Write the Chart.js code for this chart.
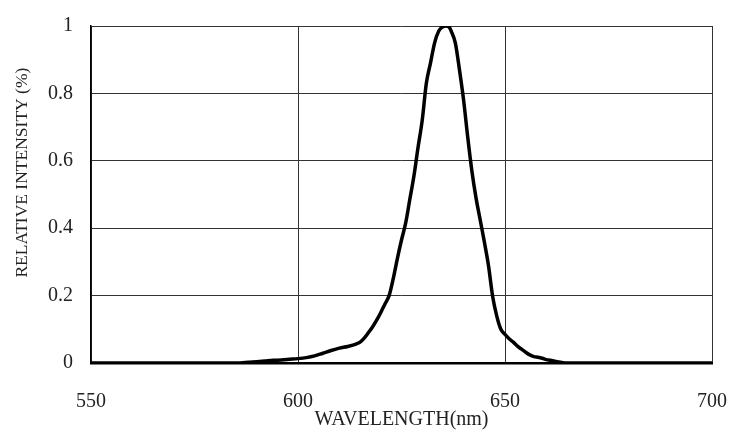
<!DOCTYPE html>
<html>
<head>
<meta charset="utf-8">
<script src="https://cdn.jsdelivr.net/npm/chart.js@4.4.1/dist/chart.umd.min.js"></script>
<style>
  body { margin: 0; background: #fff; }
  #wrap { width: 743px; height: 436px; }
</style>
</head>
<body>
<div id="wrap"><canvas id="myChart"></canvas></div>
<script>
const wavelength = [550, 560, 570, 580, 586, 588, 590, 592, 594, 596, 598, 600, 602, 604, 606, 608, 610, 612, 614, 615, 616, 617, 618, 619, 620, 621, 622, 623, 624, 625, 626, 627, 628, 629, 630, 631, 632, 633, 634, 635, 635.7, 636.5, 637, 638, 639, 640, 641, 642, 643, 644, 645, 646, 647, 648, 649, 650, 651, 652, 653, 654, 655, 656, 657, 658, 659, 660, 661, 662, 663, 664, 665, 680, 700];
const intensity = [0, 0, 0, 0, 0, 0.002, 0.004, 0.006, 0.008, 0.009, 0.011, 0.013, 0.016, 0.021, 0.029, 0.037, 0.044, 0.049, 0.056, 0.062, 0.074, 0.09, 0.107, 0.127, 0.15, 0.175, 0.2, 0.25, 0.31, 0.365, 0.415, 0.485, 0.555, 0.64, 0.72, 0.83, 0.89, 0.95, 0.985, 0.998, 1.0, 0.997, 0.985, 0.95, 0.87, 0.78, 0.67, 0.57, 0.49, 0.425, 0.36, 0.29, 0.199, 0.14, 0.1, 0.085, 0.072, 0.062, 0.05, 0.041, 0.032, 0.024, 0.019, 0.017, 0.014, 0.01, 0.008, 0.005, 0.003, 0.001, 0, 0, 0];
const xTicks = [550, 600, 650, 700];
const yTicks = ["0", "0.2", "0.4", "0.6", "0.8", "1"];
const xTitle = "WAVELENGTH(nm)";
const yTitle = "RELATIVE INTENSITY (%)";

let points = wavelength.map((w, i) => ({ x: w, y: intensity[i] }));
let serif = "'Liberation Serif', 'DejaVu Serif', serif";

new Chart("myChart", {
  type: "line",
  data: {
    datasets: [
      {
        data: points,
        borderColor: "#000",
        borderWidth: 3.5,
        pointRadius: 0,
        cubicInterpolationMode: "monotone",
        fill: false,
      },
    ],
  },
  options: {
    responsive: true,
    maintainAspectRatio: false,
    animation: false,
    layout: { padding: { left: 0, top: 26, right: 31, bottom: 0 } },
    plugins: { legend: { display: false }, tooltip: { enabled: false } },
    scales: {
      x: {
        type: "linear",
        min: xTicks[0],
        max: xTicks[xTicks.length - 1],
        afterFit: (scale) => {
          scale.height = 73;
          // tick padding would otherwise be added to the side overhang
          scale.paddingLeft = 0;
          scale.paddingRight = 0;
        },
        ticks: { stepSize: 50, padding: 27, color: "#222", font: { family: serif, size: 20 } },
        grid: { color: "#333", lineWidth: 1, drawTicks: false },
        border: { color: "#000", width: 2.5 },
        title: { display: true, text: xTitle, color: "#222", font: { family: serif, size: 20 }, padding: { top: 0, bottom: 4 } },
      },
      y: {
        min: 0,
        max: 1,
        afterFit: (scale) => {
          scale.width = 91;
          scale.paddingTop = 0;
          scale.paddingBottom = 0;
        },
        ticks: {
          stepSize: 0.2,
          padding: 18,
          color: "#222",
          font: { family: serif, size: 20 },
          callback: (v, i) => yTicks[i],
        },
        grid: { color: "#333", lineWidth: 1, drawTicks: false },
        border: { color: "#000", width: 1.5 },
        title: {
          display: true,
          // leading spaces nudge the title up a little, as in the original
          text: "          " + yTitle,
          color: "#222",
          font: { family: serif, size: 17.5 },
          padding: { top: 12, bottom: 0 },
        },
      },
    },
  },
});
</script>
</body>
</html>
